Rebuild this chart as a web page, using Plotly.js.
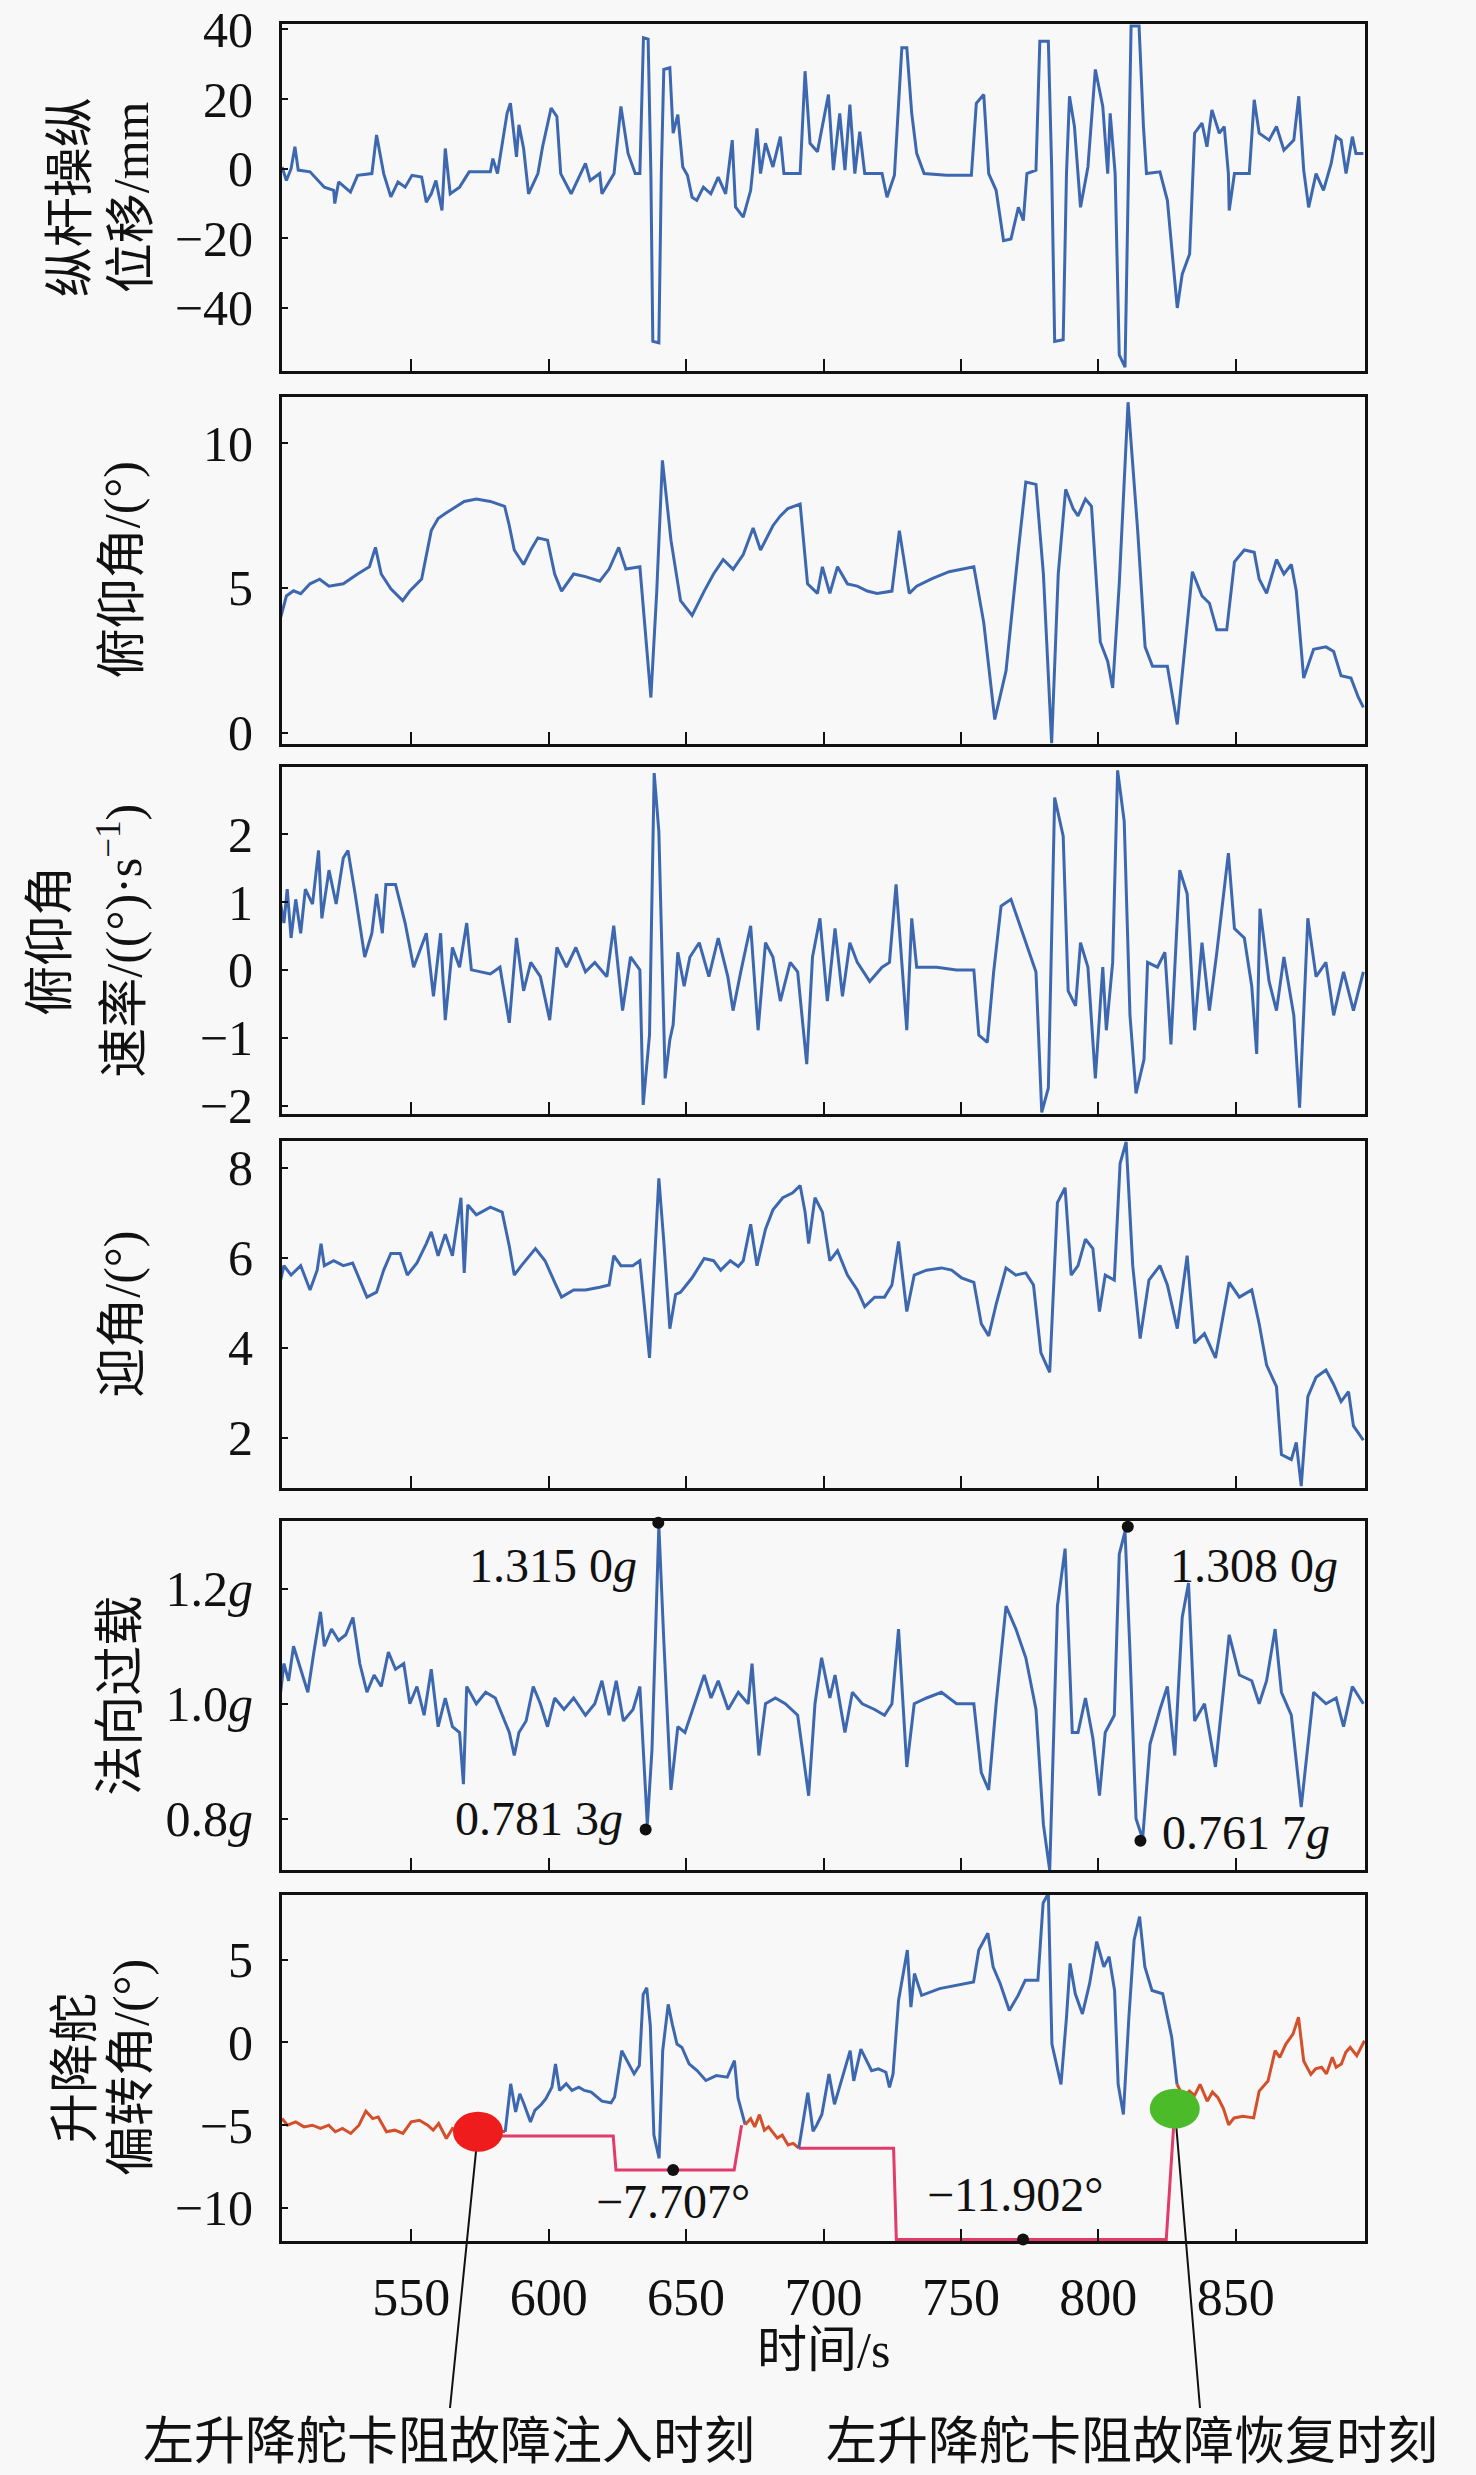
<!DOCTYPE html>
<html><head><meta charset="utf-8">
<script src="https://cdn.plot.ly/plotly-3.0.1.min.js"></script>
<style>html,body{margin:0;padding:0;background:#f8f8f8}</style>
</head><body><div id="chart" style="width:1476px;height:2475px"></div>
<script>
// ---------- DATA ----------
const timeTicks = [550, 600, 650, 700, 750, 800, 850];

// 纵杆操纵位移 / mm
const stickT = [503, 504.6, 506.3, 507.7, 508.9, 513.2, 518.4, 521.8, 522.2, 523.6, 527.9, 530.5, 535.7, 537.4, 540, 542.6, 545.2, 547.8, 550.3, 553.8, 555.5, 557.3, 559, 561.2, 562.4, 564.2, 567.6, 571.1, 578.8, 579.7, 581.4, 584.9, 586.1, 588.3, 589.2, 590.9, 592.7, 596.1, 597.8, 600.9, 603, 604.4, 608.2, 613.4, 615.1, 618.6, 619.4, 623.8, 626.3, 628.9, 631.5, 633.2, 634.5, 636.2, 637.2, 637.9, 640.1, 641, 641.9, 644.1, 645.3, 647, 648.8, 650.5, 652.2, 653.9, 656.3, 659, 661.7, 664.4, 666.8, 668, 670.8, 673.5, 675.8, 677.1, 678.9, 681.6, 684.3, 685.6, 691.5, 693.3, 695.1, 697.8, 701.8, 703.6, 705.9, 707.8, 709.6, 711.4, 713.2, 715, 721.3, 723.1, 725.8, 728.5, 730.3, 732.1, 733.9, 736.6, 744.8, 753.8, 755.6, 758.3, 760.1, 762.8, 765.5, 768.2, 770.9, 772.7, 774, 777.3, 778.7, 781.8, 783, 784.1, 787.2, 788.4, 789.5, 791.3, 793.5, 796.2, 798.9, 801.6, 803.4, 804.3, 806.1, 807.6, 809.7, 811.9, 814.8, 816.4, 817.5, 822.4, 825.1, 828.7, 830.5, 833.2, 835, 837.7, 839.5, 841.3, 844, 845.8, 847.3, 847.6, 849.5, 854.9, 856.7, 858.5, 862.1, 864.8, 867.5, 871.1, 872.9, 874.7, 876.5, 879.2, 881.9, 884.7, 886.5, 888.3, 890.1, 892.4, 893.7, 896.4];
const stickV = [0.5, -3.4, 0, 6.3, -0.4, -0.9, -5.3, -6.2, -10, -3.8, -6.7, -1.9, -1.4, 9.7, -1.4, -8.1, -3.8, -5.3, -1.9, -2.4, -9.6, -7.2, -3.4, -12, 5.8, -7.2, -5.3, -0.9, -0.9, 2.9, -1.4, 16, 18.8, 3.4, 12.6, 5.8, -7.2, -1.4, 6.3, 17.4, 15, -1.4, -7.2, 1.5, -3.4, -1.4, -7.2, -1.4, 17.9, 4.4, -1.4, -1.4, 37.6, 37.2, -1.4, -49.6, -50, -1.4, 28.5, 29, 10.2, 15.5, 0.5, -1.9, -8.2, -9.1, -5.3, -7.2, -2.4, -7.2, 8.2, -11, -13.9, -6.2, 11.6, -1.4, 7.3, 0.5, 9.2, -1.4, -1.4, 28, 7.3, 4.9, 21.3, -0.4, 15.9, -0.4, 18.4, -1.4, 10.6, -1.4, -1.4, -8.2, -1.9, 34.7, 34.7, 15.9, 4.4, -1.4, -1.9, -1.9, 18.8, 21.3, -1.4, -6.2, -20.7, -20.2, -11.1, -14.9, -1.4, -0.4, 36.6, 36.6, 0.5, -49.6, -49.1, -1.4, 20.8, 12.1, -11.1, 0.5, 28.5, 17.9, -1.4, 15.9, -1.4, -53.5, -57, 41, 41, 12.1, -1.4, -0.9, -9.1, -40, -30.3, -24.5, 10.2, 13.1, 6.3, 16.9, 10.2, 12.1, -1.4, -12, -1.4, -1.4, 19.8, 10.2, 8.2, 12.1, 5.3, 8.2, 20.8, -0.4, -11.1, -1.4, -6.2, 1.5, 9.2, 8.2, -1.4, 9.2, 4.4, 4.4];

// 俯仰角 / (°)
const pitchT = [502.5, 504.6, 507.2, 509.8, 513.2, 516.7, 520.1, 525.3, 530.5, 534.8, 537, 539.1, 542.6, 546.9, 549.5, 553.8, 557.3, 559.8, 562.4, 565, 569.3, 573.7, 578.8, 584, 585.7, 587.5, 590.9, 593.5, 596.1, 599.6, 602.2, 604.7, 609.1, 613.4, 618.6, 622, 625.5, 628.1, 633.2, 637.2, 639.3, 641.4, 644.5, 648, 652.2, 656.6, 660, 663.5, 667.1, 670.8, 674.4, 677.1, 681.6, 684.3, 687, 691.5, 694.2, 697.8, 699.6, 702.3, 705.1, 708.7, 712.3, 715.9, 719.5, 724.9, 727.6, 731.2, 733.9, 739.3, 745.7, 754.7, 758.3, 762.3, 766.4, 770.9, 773.6, 777.3, 780, 783, 785.4, 788.1, 790.8, 792.6, 795.3, 797.5, 800.7, 803.4, 805.2, 807.6, 810.8, 814.3, 817, 819.7, 825.1, 828.7, 831.4, 834.2, 837.7, 840.4, 843.1, 846.7, 849.5, 853.1, 856.7, 858.5, 861.2, 864.8, 867.5, 870.2, 872, 874.7, 878.3, 882.8, 885.6, 888.3, 891.9, 894.6, 896.4];
const pitchV = [3.97, 4.72, 4.9, 4.8, 5.14, 5.3, 5.06, 5.14, 5.48, 5.73, 6.4, 5.48, 4.97, 4.56, 4.89, 5.31, 6.98, 7.4, 7.57, 7.74, 7.99, 8.07, 7.99, 7.82, 7.15, 6.31, 5.81, 6.31, 6.73, 6.65, 5.48, 4.89, 5.48, 5.39, 5.23, 5.65, 6.4, 5.65, 5.73, 1.21, 4.81, 9.41, 6.65, 4.56, 4.05, 4.89, 5.48, 5.98, 5.64, 6.15, 7.07, 6.31, 7.15, 7.49, 7.74, 7.9, 5.14, 4.81, 5.73, 4.81, 5.73, 5.14, 5.06, 4.89, 4.81, 4.89, 6.98, 4.81, 5.06, 5.31, 5.56, 5.73, 3.8, 0.45, 2.13, 6.31, 8.66, 8.58, 5.48, -0.38, 5.48, 8.41, 7.74, 7.49, 8.07, 7.82, 3.13, 2.46, 1.54, 5.14, 11.42, 6.98, 2.96, 2.29, 2.29, 0.28, 2.8, 5.56, 4.72, 4.47, 3.55, 3.55, 5.9, 6.31, 6.23, 5.31, 4.81, 5.98, 5.48, 5.81, 4.89, 1.88, 2.88, 2.96, 2.8, 1.96, 1.88, 1.21, 0.87];

// 俯仰角速率 / ((°)·s^-1)
const rateT = [502.5, 503.7, 504.9, 506.3, 508, 509.8, 511.5, 514.1, 516.3, 517.5, 520.1, 522.7, 525.3, 527, 529.6, 533.1, 535.7, 537.4, 539.5, 540.8, 544.3, 547.8, 550.9, 552.9, 555.5, 558.1, 560.7, 562.4, 565, 567.6, 570.2, 571.9, 578.8, 582.3, 585.7, 588.3, 590.9, 593.5, 597, 600.4, 603, 606.5, 609.9, 613.4, 616.8, 621.2, 623.7, 626.9, 629.8, 633.2, 634.4, 636.7, 638.4, 640.1, 642.4, 644.1, 645.3, 647, 649.3, 651.4, 654.8, 658.3, 661.7, 665.2, 667.1, 669.9, 673.5, 676.2, 678.9, 681.6, 684.3, 687.9, 690.6, 693.9, 696, 698.7, 701.4, 704.2, 706.9, 709.6, 712.3, 716.8, 721.3, 724, 726.4, 730.3, 732.1, 733.9, 741.2, 748.4, 754.7, 756.5, 759.6, 761.9, 764.6, 768.2, 771.8, 777.3, 779.4, 781.8, 784.1, 787.2, 789, 791.7, 793.5, 796.2, 798.9, 801.6, 802.9, 805.2, 807, 809.4, 811.5, 813.7, 816.6, 817.9, 821.5, 824.2, 826.4, 829.6, 832.3, 835, 837.7, 840.4, 843.1, 847.3, 849.5, 853.1, 855.8, 857.6, 858.8, 862.1, 864.8, 867.5, 871.1, 873.2, 876.2, 879.2, 882.8, 885.6, 889.2, 892.8, 896.4];
const rateV = [0.97, 0.69, 1.19, 0.47, 1.04, 0.54, 1.19, 0.97, 1.76, 0.76, 1.47, 0.97, 1.65, 1.76, 1.12, 0.19, 0.54, 1.12, 0.54, 1.26, 1.26, 0.69, 0.04, 0.26, 0.54, -0.39, 0.54, -0.74, 0.33, 0.04, 0.69, 0, -0.06, 0.04, -0.78, 0.47, -0.31, 0.11, -0.1, -0.74, 0.33, 0.04, 0.33, -0.03, 0.11, -0.1, 0.65, -0.6, 0.19, 0, -1.99, -0.96, 2.9, 2.04, -1.6, -1.03, -0.81, 0.26, -0.24, 0.19, 0.4, -0.1, 0.47, -0.1, -0.6, -0.03, 0.65, -0.89, 0.4, 0.19, -0.46, 0.11, -0.03, -1.39, 0.19, 0.76, -0.46, 0.61, -0.39, 0.4, 0.11, -0.17, 0.04, 0.11, 1.26, -0.89, 0.76, 0.04, 0.04, 0, 0, -0.96, -1.07, -0.03, 0.94, 1.04, 0.61, -0.03, -2.1, -1.74, 2.54, 1.97, -0.31, -0.53, 0.4, 0.04, -1.6, 0.04, -0.89, 0.11, 2.94, 2.19, -0.67, -1.82, -1.32, 0.11, 0.04, 0.26, -1.1, 1.47, 1.12, -0.89, 0.4, -0.6, 0.26, 1.72, 0.61, 0.47, -0.24, -1.24, 0.9, -0.17, -0.6, 0.19, -0.67, -2.03, 0.76, -0.1, 0.11, -0.67, -0.03, -0.6, -0.03];

// 迎角 / (°)
const aoaT = [502.5, 503.7, 506.3, 509.8, 513.2, 515.8, 517.2, 518.4, 521.8, 525.3, 528.7, 531.3, 533.9, 537.4, 540, 542.6, 546, 548.6, 552.1, 555.5, 557.3, 559.8, 562.4, 565, 567.1, 568.1, 569.3, 570.6, 573.7, 578.8, 583.1, 585.7, 587.5, 590.1, 595.2, 598.7, 602.2, 604.7, 609.1, 613.4, 618.6, 622, 623.7, 626.3, 630.6, 633.2, 636.7, 638.4, 640.1, 641.9, 644.1, 646.2, 648, 652.2, 656.6, 660, 662.6, 666.1, 669, 670.8, 673.5, 675.8, 678.9, 681.6, 685.2, 688.8, 691.5, 693.3, 694.6, 696.9, 699.6, 702.3, 705.1, 708.7, 712.3, 715, 718.6, 722.2, 724.9, 727.3, 730.3, 733, 737.5, 742.9, 746.6, 750.2, 754.7, 757.4, 760.1, 762.8, 766.4, 770, 773.6, 776.4, 779.1, 782.3, 785.1, 787.9, 790.1, 792.6, 795.3, 798, 800.4, 802.5, 805.8, 807.9, 810.1, 812.5, 815.2, 818.4, 822.4, 825.1, 828.7, 832.3, 835, 838.6, 842.6, 847.6, 851.3, 855.8, 858.5, 861.2, 864.8, 866.6, 870.2, 872, 873.8, 876.2, 879.2, 882.8, 885.6, 888.3, 891, 892.8, 896.4];
const aoaV = [5.5, 5.82, 5.61, 5.82, 5.28, 5.72, 6.31, 5.82, 5.93, 5.82, 5.88, 5.5, 5.12, 5.23, 5.72, 6.09, 6.09, 5.61, 5.88, 6.31, 6.57, 6.04, 6.52, 6.04, 6.85, 7.33, 5.66, 7.17, 6.95, 7.12, 7.01, 6.25, 5.61, 5.82, 6.2, 5.93, 5.45, 5.12, 5.28, 5.28, 5.34, 5.39, 6.04, 5.82, 5.82, 5.93, 3.77, 5.93, 7.76, 6.36, 4.42, 5.18, 5.23, 5.55, 5.98, 5.93, 5.72, 5.93, 5.8, 5.93, 6.74, 5.82, 6.63, 7.06, 7.33, 7.44, 7.6, 7.01, 6.31, 7.33, 7.01, 5.93, 6.15, 5.61, 5.28, 4.91, 5.12, 5.12, 5.39, 6.36, 4.8, 5.61, 5.72, 5.77, 5.72, 5.55, 5.45, 4.53, 4.26, 4.96, 5.77, 5.61, 5.66, 5.39, 3.88, 3.45, 7.22, 7.55, 5.61, 5.82, 6.41, 6.2, 4.8, 5.61, 5.5, 8.09, 8.57, 5.82, 4.2, 5.5, 5.82, 5.39, 4.42, 6.04, 4.1, 4.31, 3.77, 5.45, 5.12, 5.28, 4.53, 3.61, 3.13, 1.62, 1.51, 1.89, 0.92, 2.91, 3.34, 3.5, 3.18, 2.8, 3.02, 2.26, 1.94];

// 法向过载 / g
const nzT = [502.5, 503.7, 505.4, 507.2, 509.8, 512.4, 514.6, 517, 518.4, 521, 523.6, 526.2, 528.8, 531.3, 533.9, 536.5, 539.1, 541.7, 544.3, 547.3, 549.5, 552.1, 554.7, 557.3, 559.8, 562.4, 565, 567.6, 569, 570.2, 573.7, 577.1, 580.6, 583.2, 585.7, 587.5, 589.2, 591.8, 594.4, 597, 599.6, 602.2, 605.6, 609.1, 613.4, 616.8, 619.4, 622, 624.6, 627.2, 630.7, 633.2, 635.9, 637.6, 640.1, 641.9, 644.5, 647, 649.6, 653.1, 656.6, 659.1, 661.7, 665.3, 669, 672.6, 674, 676.5, 678.9, 682.5, 686.1, 690.6, 694.6, 696.9, 699.3, 702.3, 704.2, 707.8, 710.5, 714.1, 718.6, 722.2, 724.9, 727.3, 730.3, 733, 737.5, 742.9, 748.4, 754.7, 757.4, 760.1, 762.8, 766.4, 770, 773.6, 777.3, 780, 782.3, 785.1, 787.9, 790.5, 792.6, 795.3, 798, 800.4, 802.5, 805.8, 807.6, 809.7, 811.5, 813.7, 816.1, 818.8, 822.4, 825.1, 827.8, 830.5, 832.8, 835, 838.6, 842.6, 847.6, 851.3, 855.8, 858.5, 861.2, 864.3, 866.6, 870.2, 873.8, 878.3, 882.8, 886.5, 889.2, 892.4, 896.4];
const nzV = [1.02, 1.07, 1.04, 1.10, 1.06, 1.02, 1.09, 1.16, 1.10, 1.13, 1.11, 1.12, 1.15, 1.07, 1.02, 1.05, 1.03, 1.09, 1.06, 1.07, 1.0, 1.03, 0.98, 1.06, 0.96, 1.01, 0.96, 0.95, 0.86, 1.03, 1.0, 1.02, 1.01, 0.98, 0.95, 0.91, 0.95, 0.97, 1.03, 1.0, 0.96, 1.01, 0.99, 1.01, 0.98, 1.0, 1.04, 0.98, 1.04, 0.97, 0.99, 1.03, 0.79, 0.92, 1.31, 1.11, 0.85, 0.96, 0.95, 1.0, 1.05, 1.01, 1.04, 0.99, 1.02, 1.0, 1.07, 0.91, 1.0, 1.01, 1.0, 0.98, 0.84, 1.0, 1.08, 1.01, 1.05, 0.95, 1.02, 1.0, 0.99, 0.98, 1.0, 1.13, 0.89, 1.0, 1.01, 1.02, 1.0, 1.0, 0.88, 0.85, 1.0, 1.17, 1.13, 1.08, 0.99, 0.79, 0.71, 1.17, 1.27, 0.95, 0.95, 1.01, 0.94, 0.84, 0.95, 0.98, 1.26, 1.30, 1.09, 0.80, 0.765, 0.93, 0.99, 1.03, 0.91, 1.15, 1.21, 0.97, 1.0, 0.89, 1.12, 1.05, 1.04, 1.0, 1.04, 1.13, 1.02, 0.98, 0.82, 1.02, 1.0, 1.01, 0.96, 1.03, 1.0];
const nzPeakT = [639.9, 635.3, 810.7, 815.3];
const nzPeakV = [1.315, 0.7813, 1.308, 0.7617];
const nzPeakLabel = ['1.315 0<i>g</i>', '0.781 3<i>g</i>', '1.308 0<i>g</i>', '0.761 7<i>g</i>'];

// 升降舵偏转角 / (°) : command signal, split into normal (red) and fault (blue) segments
const elevNormT1 = [503, 505, 508, 511, 514, 517, 520, 522.4, 525, 528, 531, 533.5, 536, 538, 541, 544, 547, 550, 553, 556, 558, 560, 562.8, 565, 568, 571, 574.2, 578, 581, 584.2];
const elevNormV1 = [-4.6, -5.0, -4.8, -5.1, -5.0, -5.2, -5.0, -5.4, -5.2, -5.5, -5.0, -4.15, -4.6, -4.5, -5.4, -5.3, -5.5, -4.8, -4.7, -5.0, -5.3, -4.9, -5.8, -5.2, -5.5, -5.1, -5.4, -5.6, -5.3, -5.4];
const elevFaultT1 = [584.2, 586.2, 588, 589.5, 591, 593.4, 595, 597.3, 599, 601.2, 602.5, 604, 606.4, 608.5, 611, 613, 615.5, 617.5, 619.4, 622.7, 624, 626.6, 628.5, 631.1, 633, 634.4, 635.7, 637, 638.3, 640.2, 641.5, 643.5, 645, 646.7, 648.5, 651.1, 654, 657.2, 661, 665, 667.6, 668.9, 671.5];
const elevFaultV1 = [-5.4, -2.5, -4.2, -3.1, -3.7, -4.8, -4.1, -3.75, -3.4, -2.7, -1.3, -2.9, -2.5, -2.9, -2.7, -2.9, -3.0, -3.3, -3.55, -3.65, -3.3, -0.5, -1.1, -1.9, -1.4, 2.9, 3.3, 1.0, -5.6, -7.0, -0.5, 2.3, 1.1, -0.1, -0.3, -1.3, -1.7, -2.3, -2.0, -2.1, -1.1, -3.35, -4.97];
const elevNormT2 = [671.5, 673.5, 675, 676.7, 678.5, 680, 683.2, 685, 687.1, 689, 691];
const elevNormV2 = [-4.97, -4.6, -5.1, -4.36, -5.3, -5.1, -5.78, -5.6, -6.19, -6.1, -6.39];
const elevFaultT2 = [691, 694.3, 696.2, 697.5, 699.4, 702, 704, 706.5, 709.7, 711, 713.6, 717.5, 720, 722.7, 724, 725.3, 727.3, 730.5, 731.8, 733.1, 735.7, 742.2, 748.7, 754.6, 756.5, 759.8, 761.7, 764.3, 767.6, 770.8, 773.4, 778, 779.9, 781.8, 783.1, 786.4, 788.4, 789.7, 791.6, 794.2, 796.8, 799.4, 802, 803.9, 805.9, 807.2, 809.1, 811.1, 813, 815, 816.9, 819.5, 823.4, 826.7, 828.6];
const elevFaultV2 = [-6.39, -3.04, -5.37, -5.0, -4.35, -1.91, -3.74, -2.32, -0.5, -2.32, -0.4, -1.71, -1.6, -1.8, -2.72, -1.9, 2.54, 5.58, 2.13, 4.16, 2.84, 3.25, 3.45, 3.65, 5.58, 6.6, 4.57, 3.55, 1.93, 2.84, 3.75, 3.75, 8.42, 9.0, -0.1, -2.53, 1.52, 4.77, 2.94, 1.72, 3.55, 6.09, 4.57, 5.18, 3.14, -2.53, -4.35, 1.52, 6.19, 7.6, 4.57, 3.14, 2.94, 0.3, -2.53];
const elevNormT3 = [828.6, 831, 833.1, 835, 837, 839.6, 841.5, 843.5, 845.5, 847.4, 849.4, 852.6, 856.5, 858.5, 861.7, 864.3, 866, 868.2, 870.8, 872.8, 874.7, 877.3, 879, 881.2, 883, 885.1, 886.5, 888.4, 890, 891.6, 894, 896.8];
const elevNormV3 = [-2.53, -3.3, -2.94, -3.2, -2.53, -3.55, -3.0, -3.34, -4.0, -4.97, -4.56, -4.46, -4.56, -2.94, -2.33, -0.5, -0.9, -0.1, 0.5, 1.52, -1.12, -1.93, -1.6, -1.5, -1.9, -0.9, -1.5, -1.3, -0.6, -0.3, -0.8, 0.1];
// 左升降舵实际(卡阻)位置
const stuckT = [574.3, 623.5, 624.5, 667.5, 670.2, null, 691, 725.5, 726.5, 824.7, 827.8];
const stuckV = [-5.65, -5.65, -7.707, -7.707, -5.0, null, -6.4, -6.4, -11.902, -11.902, -4.0];
const stuckLabelT = [645.3, 772.6];
const stuckLabelV = [-7.707, -11.902];
const stuckLabelText = ['\u22127.707°', '\u221211.902°'];
const eventT = [574.3, 827.8];     // 故障注入时刻, 故障恢复时刻
const eventV = [-5.4, -4.0];
const eventColor = ['#ee1c1c', '#4cbb2a'];
const eventText = ['左升降舵卡阻故障注入时刻', '左升降舵卡阻故障恢复时刻'];

// ---------- LAYOUT ----------
const W = 1476, H = 2475;
const LINE = '#3d68b0', RED = '#d4502a', PINK = '#e23a6a';
const serif = 'Liberation Serif, Times New Roman, serif';
const cjk = 'Liberation Serif, Noto Sans CJK SC, serif';
const xRange = [503, 897];
const xDom = [282 / W, 1365 / W];
const panelsPx = [[23.5, 371], [397, 743.5], [767, 1114.4], [1141, 1488.4], [1521, 1870.4], [1894.6, 2241.4]];
const yDom = panelsPx.map(p => [1 - p[1] / H, 1 - p[0] / H]);
const yRanges = [[-58.1, 41.7], [-0.38, 11.6], [-2.13, 2.99], [0.87, 8.59], [0.71, 1.318], [-12.02, 8.93]];
const yTickVals = [[-40, -20, 0, 20, 40], [0, 5, 10], [-2, -1, 0, 1, 2], [2, 4, 6, 8], [0.8, 1.0, 1.2], [-10, -5, 0, 5]];
const yTickText = [null, null, null, null, ['0.8<i>g</i>', '1.0<i>g</i>', '1.2<i>g</i>'], null];

const frame = {
  showline: true, mirror: true, linecolor: '#111', linewidth: 3,
  ticks: 'inside', tickcolor: '#111', tickwidth: 2,
  showgrid: false, zeroline: false
};

const layout = {
  width: W, height: H, margin: {l: 0, r: 0, t: 0, b: 0},
  paper_bgcolor: '#f8f8f8', plot_bgcolor: '#f8f8f8', showlegend: false,
  annotations: [], shapes: []
};
for (let i = 0; i < 6; i++) {
  const s = i === 0 ? '' : String(i + 1);
  layout['xaxis' + s] = Object.assign({}, frame, {
    domain: xDom, anchor: 'y' + s, range: xRange,
    tickmode: 'array', tickvals: timeTicks, ticklen: 12,
    showticklabels: i === 5, ticklabelstandoff: 8,
    tickfont: {family: serif, size: 52, color: '#111'}
  });
  const ya = Object.assign({}, frame, {
    domain: yDom[i], anchor: 'x' + s, range: yRanges[i],
    tickmode: 'array', tickvals: yTickVals[i], ticklen: 6, ticklabelstandoff: 16,
    tickfont: {family: serif, size: 50, color: '#111'}
  });
  if (yTickText[i]) ya.ticktext = yTickText[i];
  layout['yaxis' + s] = ya;
}

// y-axis titles (one annotation per line, rotated)
const titleLines = [
  [0, '纵杆操纵', 70], [0, '位移/mm', 131],
  [1, '俯仰角/(°)', 122],
  [2, '俯仰角', 50], [2, '速率/((°)·s<sup>\u22121</sup>)', 121],
  [3, '迎角/(°)', 122],
  [4, '法向过载', 120],
  [5, '升降舵', 75], [5, '偏转角/(°)', 131]
];
titleLines.forEach(([p, txt, xpx]) => {
  layout.annotations.push({
    text: txt, xref: 'paper', yref: 'paper', x: xpx / W,
    y: (yDom[p][0] + yDom[p][1]) / 2, xanchor: 'center', yanchor: 'middle',
    textangle: -90, showarrow: false, font: {family: cjk, size: 50, color: '#111'}
  });
});
// x title
layout.annotations.push({
  text: '时间/s', xref: 'paper', yref: 'paper', x: (xDom[0] + xDom[1]) / 2, y: 1 - 2350 / H,
  xanchor: 'center', yanchor: 'middle', showarrow: false, font: {family: cjk, size: 50, color: '#111'}
});
// load factor labels
const nzLabelPos = [[633, 1.24, 'right'], [627.8, 0.80, 'right'], [825.2, 1.24, 'left'], [822.4, 0.776, 'left']];
nzPeakLabel.forEach((t, k) => {
  layout.annotations.push({
    text: t, xref: 'x5', yref: 'y5', x: nzLabelPos[k][0], y: nzLabelPos[k][1],
    xanchor: nzLabelPos[k][2], yanchor: 'middle', showarrow: false,
    font: {family: serif, size: 48, color: '#111'}
  });
});
// stuck value labels
const stuckLabelPos = [[645.2, -9.6], [769.5, -9.2]];
stuckLabelText.forEach((t, k) => {
  layout.annotations.push({
    text: t, xref: 'x6', yref: 'y6', x: stuckLabelPos[k][0], y: stuckLabelPos[k][1],
    xanchor: 'center', yanchor: 'middle', showarrow: false,
    font: {family: serif, size: 48, color: '#111'}
  });
});
// event texts below the chart
const eventTextX = [449, 1132];
eventText.forEach((t, k) => {
  layout.annotations.push({
    text: t, xref: 'paper', yref: 'paper', x: eventTextX[k] / W, y: 1 - 2442 / H,
    xanchor: 'center', yanchor: 'middle', showarrow: false,
    font: {family: cjk, size: 51, color: '#111'}
  });
});
// event markers: ellipses anchored at the event points (drawn above the lines)
eventT.forEach((t, k) => {
  layout.shapes.push({
    type: 'circle', xref: 'x6', yref: 'y6', xsizemode: 'pixel', ysizemode: 'pixel',
    xanchor: t, yanchor: eventV[k], x0: -25, x1: 25, y0: -20, y1: 20,
    fillcolor: eventColor[k], line: {width: 0}, layer: 'above'
  });
});
// leader lines from event markers down to their texts (converted through the panel-6 scales)
const toPaperX = t => xDom[0] + (t - xRange[0]) / (xRange[1] - xRange[0]) * (xDom[1] - xDom[0]);
const toPaperY = v => yDom[5][0] + (v - yRanges[5][0]) / (yRanges[5][1] - yRanges[5][0]) * (yDom[5][1] - yDom[5][0]);
const leaderEndPx = [[450, 2408], [1200, 2408]];
eventT.forEach((t, k) => {
  layout.shapes.push({
    type: 'line', xref: 'paper', yref: 'paper', layer: 'below',
    x0: toPaperX(t), y0: toPaperY(eventV[k]),
    x1: leaderEndPx[k][0] / W, y1: 1 - leaderEndPx[k][1] / H,
    line: {color: '#111', width: 2}
  });
});

// ---------- TRACES ----------
function line(x, y, ax, color) {
  return {x: x, y: y, xaxis: 'x' + ax, yaxis: 'y' + ax, type: 'scatter', mode: 'lines',
          line: {color: color, width: 3}, hoverinfo: 'skip', connectgaps: false};
}
const traces = [
  line(stickT, stickV, '', LINE),
  line(pitchT, pitchV, '2', LINE),
  line(rateT, rateV, '3', LINE),
  line(aoaT, aoaV, '4', LINE),
  line(nzT, nzV, '5', LINE),
  {x: nzPeakT, y: nzPeakV, xaxis: 'x5', yaxis: 'y5', type: 'scatter', mode: 'markers',
   marker: {color: '#111', size: 12}, cliponaxis: false, hoverinfo: 'skip'},
  line(stuckT, stuckV, '6', PINK),
  line(elevNormT1, elevNormV1, '6', RED),
  line(elevFaultT1, elevFaultV1, '6', LINE),
  line(elevNormT2, elevNormV2, '6', RED),
  line(elevFaultT2, elevFaultV2, '6', LINE),
  line(elevNormT3, elevNormV3, '6', RED),
  {x: stuckLabelT, y: stuckLabelV, xaxis: 'x6', yaxis: 'y6', type: 'scatter', mode: 'markers',
   marker: {color: '#111', size: 12}, cliponaxis: false, hoverinfo: 'skip'}
];

Plotly.newPlot('chart', traces, layout, {staticPlot: true, displayModeBar: false});
</script></body></html>
